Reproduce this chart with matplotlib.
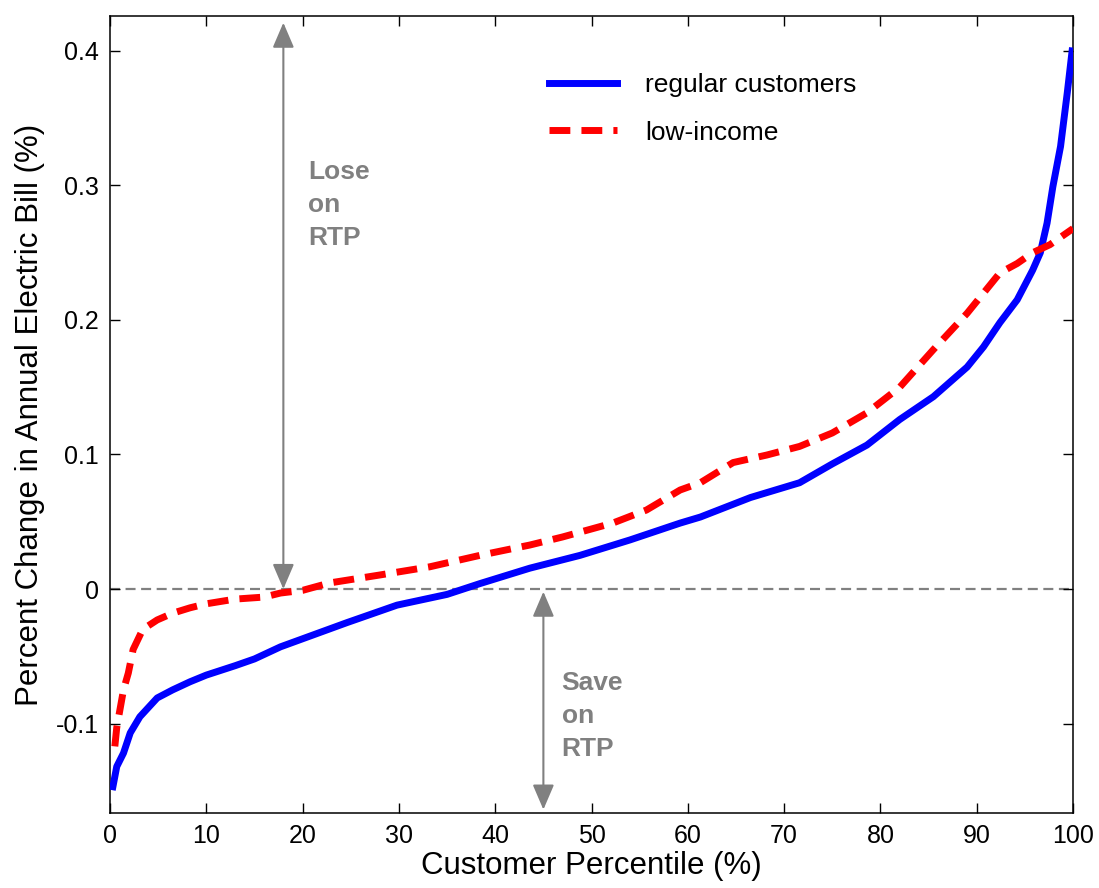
import matplotlib
matplotlib.use("Agg")
import matplotlib.pyplot as plt

plt.rcParams['font.family'] = ['Liberation Sans', 'DejaVu Sans']

# regular customers (blue solid)
reg_x = [0.3, 0.7, 1.4, 2.1, 3.1, 4.9, 6.5, 8.3, 10, 13, 15, 17.7, 20, 24.6, 29.8,
         35, 38.4, 43.6, 48.8, 54, 59.2, 61.3, 66.5, 71.6, 75, 78.6, 82, 85.5, 89,
         90.7, 92.4, 94.2, 95.8, 96.6, 97.3, 97.9, 98.7, 99.4, 99.9]
reg_y = [-0.147, -0.132, -0.122, -0.107, -0.095, -0.081, -0.075, -0.069, -0.064,
         -0.057, -0.052, -0.043, -0.037, -0.025, -0.012, -0.004, 0.004, 0.0155,
         0.025, 0.0365, 0.049, 0.0535, 0.068, 0.079, 0.093, 0.107, 0.126, 0.143,
         0.165, 0.18, 0.198, 0.215, 0.237, 0.25, 0.272, 0.299, 0.329, 0.369, 0.40]

# low-income (red dashed)
low_x = [0.5, 0.7, 1.4, 1.9, 2.4, 3.4, 4.9, 6.5, 8.3, 10, 13, 16, 17.7, 20, 22.8,
         28, 33.2, 38.4, 43.6, 47, 52.2, 55.7, 59.2, 61.3, 64.7, 68.2, 71.6, 75,
         78.6, 82, 85.5, 89, 90.7, 92.4, 94.2, 95.8, 97.6, 100]
low_y = [-0.117, -0.103, -0.075, -0.0625, -0.045, -0.030, -0.023, -0.018, -0.014,
         -0.011, -0.0075, -0.006, -0.003, -0.001, 0.0045, 0.0104, 0.0165, 0.025,
         0.0327, 0.0387, 0.049, 0.0587, 0.0736, 0.079, 0.094, 0.0996, 0.106, 0.116,
         0.131, 0.150, 0.178, 0.205, 0.22, 0.235, 0.242, 0.25, 0.256, 0.268]

xticks = [0, 10, 20, 30, 40, 50, 60, 70, 80, 90, 100]
yticks = [-0.1, 0, 0.1, 0.2, 0.3, 0.4]
ytick_labels = ['-0.1', '0', '0.1', '0.2', '0.3', '0.4']

fig = plt.figure(figsize=(10.99, 8.88), dpi=100)
ax = fig.add_axes([0.1001, 0.0845, 0.8763, 0.8975])

gray = '#808080'
ax.axhline(0, color=gray, lw=1.6, linestyle=(0, (4.5, 2.5)), zorder=1)

ax.plot(reg_x, reg_y, color='#0000ff', lw=5, label='regular customers', zorder=3)
ax.plot(low_x, low_y, color='#ff0000', lw=5, linestyle=(0, (3, 1.6)),
        label='low-income', zorder=3)

# lose / save arrows
arrow_kw = dict(arrowstyle='<|-|>,head_length=0.7,head_width=0.3',
                color=gray, lw=1.5, shrinkA=0, shrinkB=0, mutation_scale=22)
ax.annotate('', xy=(18, 0.421), xytext=(18, 0.0), arrowprops=arrow_kw, zorder=2)
ax.annotate('', xy=(45, -0.164), xytext=(45, -0.002), arrowprops=arrow_kw, zorder=2)

ax.text(20.6, 0.2855, 'Lose\non\nRTP', color=gray, fontsize=19, fontweight='bold',
        ha='left', va='center', linespacing=1.45)
ax.text(46.9, -0.0944, 'Save\non\nRTP', color=gray, fontsize=19, fontweight='bold',
        ha='left', va='center', linespacing=1.45)

ax.set_xlim(0, 100)
ax.set_ylim(-0.1665, 0.426)
ax.set_xticks(xticks)
ax.set_yticks(yticks)
ax.set_yticklabels(ytick_labels)
ax.tick_params(direction='in', length=7, width=1, top=True, right=True,
               labelsize=18, pad=8)
for s in ax.spines.values():
    s.set_linewidth(1.1)

ax.set_xlabel('Customer Percentile (%)', fontsize=22.5, labelpad=2)
ax.set_ylabel('Percent Change in Annual Electric Bill (%)', fontsize=22.5, labelpad=8)

ax.legend(loc='upper left', bbox_to_anchor=(0.456, 0.928), frameon=False,
          fontsize=19, handlelength=2.58, handletextpad=1.06, labelspacing=0.88,
          borderpad=0, borderaxespad=0)

fig.savefig('out.png', dpi=100)
